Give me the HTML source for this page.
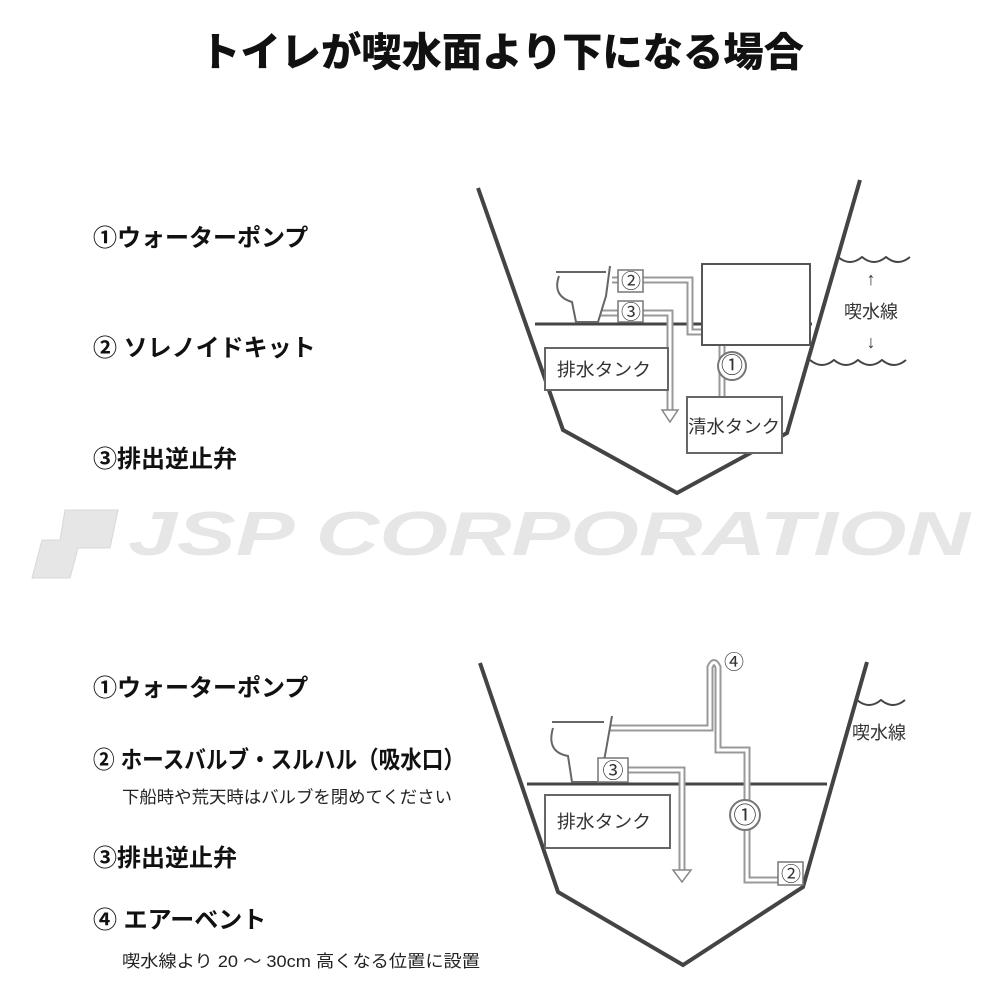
<!DOCTYPE html>
<html><head><meta charset="utf-8"><style>
body{margin:0;width:1000px;height:1000px;background:#fff;overflow:hidden;}
svg{display:block}
.t{font-family:"Liberation Sans","Noto Sans CJK JP",sans-serif;}
</style></head><body>
<svg width="1000" height="1000" viewBox="0 0 1000 1000" class="t">
<text x="502" y="66" font-size="40" font-weight="900" text-anchor="middle" fill="#111" textLength="604" lengthAdjust="spacingAndGlyphs">トイレが喫水面より下になる場合</text>

<g font-weight="bold" font-size="24" fill="#111">
<text x="93" y="246">①ウォーターポンプ</text>
<text x="93" y="356">② ソレノイドキット</text>
<text x="93" y="467">③排出逆止弁</text>
<text x="93" y="696">①ウォーターポンプ</text>
<text x="93" y="768" textLength="372" lengthAdjust="spacingAndGlyphs">② ホースバルブ・スルハル（吸水口）</text>
<text x="93" y="866">③排出逆止弁</text>
<text x="93" y="928">④ エアーベント</text>
</g>
<g font-size="17" fill="#222">
<text x="122" y="803" textLength="330" lengthAdjust="spacingAndGlyphs">下船時や荒天時はバルブを閉めてください</text>
<text x="122" y="967" textLength="358" lengthAdjust="spacingAndGlyphs">喫水線より 20 ～ 30cm 高くなる位置に設置</text>
</g>

<!-- watermark -->
<g fill="#e6e6e6" stroke="#d8d8d8" stroke-width="1">
<polygon points="65,510 118,510 110,548 78,548 70,578 32,578 42,540 60,540"/>
<text x="128" y="555" font-size="62" font-weight="bold" font-style="italic" textLength="842" lengthAdjust="spacingAndGlyphs" stroke="none">JSP CORPORATION</text>
</g>

<!-- TOP DIAGRAM -->
<g fill="none" stroke="#444">
<polyline points="478,188 563,430 677,493 787,433 860,180" stroke-width="4"/>
<line x1="535" y1="324" x2="812" y2="324" stroke-width="3"/>
<path d="M838,257 q12,10 24,0 q12,10 24,0 q12,10 24,0" stroke-width="2"/>
<path d="M810,360 q12,10 24,0 q12,10 24,0 q12,10 24,0 q12,10 24,0" stroke-width="2"/>
<g stroke="#999" stroke-width="7"><path d="M612,280 H690 V332 H705"/><path d="M600,313 H670 V412"/><path d="M722,345 V398"/></g>
<g stroke="#fff" stroke-width="3"><path d="M612,280 H690 V332 H705"/><path d="M600,313 H670 V412"/><path d="M722,345 V398"/></g>
<polygon points="662,410 678,410 670,422" fill="#fff" stroke="#888" stroke-width="1.5"/>
<path d="M556,272 L606,272 M559,276 Q552,296 572,302 L576,322 L598,322 L606,296 L610,266" stroke="#666" stroke-width="2" fill="#fff"/>
<rect x="618" y="270" width="25" height="22" stroke="#777" stroke-width="1.5" fill="#fff"/>
<rect x="618" y="301" width="25" height="21" stroke="#777" stroke-width="1.5" fill="#fff"/>
<rect x="702" y="264" width="108" height="81" stroke="#555" stroke-width="2" fill="#fff"/>
<rect x="545" y="348" width="123" height="42" stroke="#666" stroke-width="2" fill="#fff"/>
<rect x="687" y="397" width="95" height="56" stroke="#666" stroke-width="2" fill="#fff"/>
<circle cx="732" cy="366" r="14" stroke="#777" stroke-width="2" fill="#fff"/>
</g>
<g fill="#333" font-size="18">
<text x="631" y="288" text-anchor="middle" font-size="20">②</text>
<text x="631" y="319" text-anchor="middle" font-size="20">③</text>
<text x="732" y="373" text-anchor="middle" font-size="22">①</text>
<text x="557" y="376" textLength="94" lengthAdjust="spacingAndGlyphs">排水タンク</text>
<text x="688" y="433" textLength="92" lengthAdjust="spacingAndGlyphs">清水タンク</text>
<text x="871" y="285" text-anchor="middle">↑</text>
<text x="871" y="318" text-anchor="middle">喫水線</text>
<text x="871" y="348" text-anchor="middle">↓</text>
</g>

<!-- BOTTOM DIAGRAM -->
<g fill="none" stroke="#444">
<polyline points="480,663 558,892 683,965 803,887 867,662" stroke-width="4"/>
<line x1="527" y1="784" x2="827" y2="784" stroke-width="3"/>
<path d="M857,700 q12,10 24,0 q12,10 24,0" stroke-width="2"/>
<g stroke="#999" stroke-width="7"><path d="M610,728 H710 V667 Q714,658 718,667 V750 H747 V880 H780"/><path d="M626,770 H682 V873"/></g>
<g stroke="#fff" stroke-width="3"><path d="M610,728 H710 V667 Q714,658 718,667 V750 H747 V880 H780"/><path d="M626,770 H682 V873"/></g>
<polygon points="673,870 691,870 682,882" fill="#fff" stroke="#888" stroke-width="1.5"/>
<path d="M552,722 L604,722 M553,728 Q546,752 568,756 L572,782 L600,782 L606,750 L612,716" stroke="#666" stroke-width="2" fill="#fff"/>
<rect x="598" y="758" width="30" height="24" stroke="#777" stroke-width="1.5" fill="#fff"/>
<rect x="545" y="795" width="125" height="53" stroke="#666" stroke-width="2" fill="#fff"/>
<rect x="778" y="862" width="25" height="23" stroke="#777" stroke-width="1.5" fill="#fff"/>
<circle cx="745" cy="815" r="15" stroke="#777" stroke-width="2" fill="#fff"/>
</g>
<g fill="#333" font-size="18">
<text x="613" y="778" text-anchor="middle" font-size="21">③</text>
<text x="745" y="823" text-anchor="middle" font-size="23">①</text>
<text x="791" y="881" text-anchor="middle" font-size="20">②</text>
<text x="734" y="669" text-anchor="middle" font-size="20">④</text>
<text x="557" y="828" textLength="94" lengthAdjust="spacingAndGlyphs">排水タンク</text>
<text x="852" y="739">喫水線</text>
</g>
</svg>
</body></html>
